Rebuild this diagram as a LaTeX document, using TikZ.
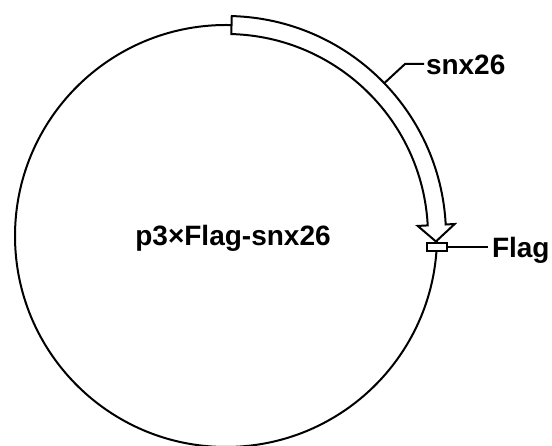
\documentclass[tikz,border=0pt]{standalone}
\usepackage{fontspec}
\setmainfont{Liberation Sans}
\begin{document}
\begin{tikzpicture}[x=1pt,y=1pt,line width=2pt,
  lbl/.style={font=\bfseries\fontsize{28}{32}\selectfont, inner sep=0pt}]
\useasboundingbox (0,0) rectangle (552,446);
\coordinate (c) at (226,210);
\node[circle, draw, minimum size=422pt, inner sep=0pt, outer sep=0pt] (plasmid) at (c) {};
% snx26 arrow
\draw[fill=white, line join=miter]
  ([shift={(88.5:220pt)}]c) arc[start angle=88.5, end angle=3, radius=220pt]
  -- ([shift={(3:229pt)}]c) -- ([shift={(-1.5:210pt)}]c) -- ([shift={(3:192pt)}]c)
  -- ([shift={(3:202pt)}]c) arc[start angle=3, end angle=88.5, radius=202pt] -- cycle;
% Flag box
\node[draw, fill=white, minimum width=20pt, minimum height=8pt, inner sep=0pt, line width=1.8pt] (flagbox) at ([shift={(-3:211pt)}]c) {};
\node[lbl, anchor=base west] (flaglbl) at (491,188) {Flag};
\draw (flagbox.east) -- ([xshift=-3pt]flagbox.east -| flaglbl.west);
% snx26 label
\node[lbl, anchor=base west] (snxlbl) at (425,371) {snx26};
\coordinate (snxpt) at ([shift={(44:220pt)}]c);
\coordinate (bend) at (405,382);
\draw (snxpt) -- (bend) -- ([xshift=-1pt]bend -| snxlbl.west);
% name
\node[lbl, anchor=base] (name) at (233,200) {p3×Flag-snx26};
\end{tikzpicture}
\end{document}
